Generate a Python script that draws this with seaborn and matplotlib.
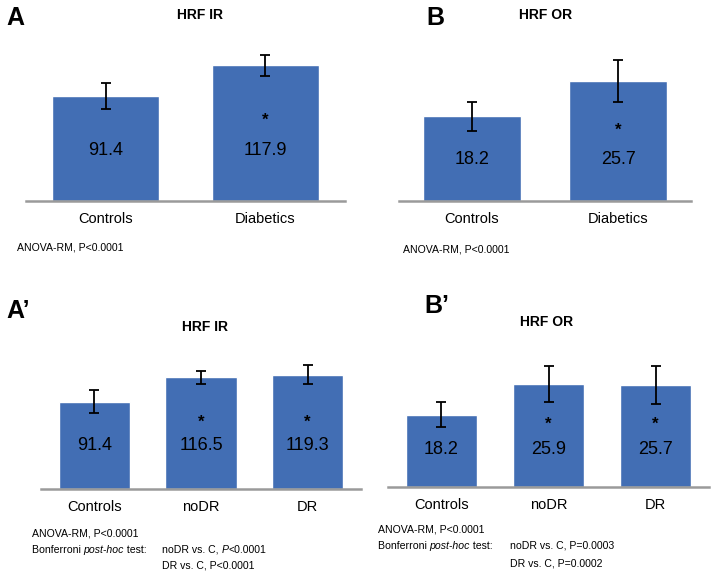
import matplotlib
matplotlib.use("Agg")
import matplotlib.pyplot as plt
import seaborn as sns
import pandas as pd

sns.set_style("white")
plt.rcParams['font.family'] = ['Liberation Sans', 'DejaVu Sans']
plt.rcParams['text.color'] = 'black'
plt.rcParams['xtick.color'] = 'black'
plt.rcParams['xtick.labelcolor'] = 'black'

# ---- data ----
cats_2 = ["Controls", "Diabetics"]
cats_3 = ["Controls", "noDR", "DR"]

ir_2 = [91.4, 117.9]
ir_2_err = [11.3, 9.0]
or_2 = [18.2, 25.7]
or_2_err = [3.1, 4.5]

ir_3 = [91.4, 116.5, 119.3]
ir_3_err = [12.0, 7.2, 10.0]
or_3 = [18.2, 25.9, 25.7]
or_3_err = [3.1, 4.6, 4.7]

sig_2 = ["", "*"]
sig_3 = ["", "*", "*"]

BAR = "#426EB4"
W, H = 714, 575
fig = plt.figure(figsize=(W / 100, H / 100), dpi=100)


def px_axes(x0, x1, base, top):
    return fig.add_axes([x0 / W, 1 - base / H, (x1 - x0) / W, (base - top) / H])


def panel(ax, cats, vals, errs, sig, ymax, lab_px, star_px):
    df = pd.DataFrame({"cat": cats, "val": vals})
    sns.barplot(data=df, x="cat", y="val", color=BAR, saturation=1,
                width=0.67, errorbar=None, ax=ax)
    ax.errorbar(range(len(vals)), vals, yerr=errs, fmt="none", ecolor="black",
                elinewidth=1.3, capsize=3.5, capthick=1.3, zorder=5)
    ax.set_ylim(0, ymax)
    ax.set_xlim(-0.5, len(vals) - 0.5)
    for s in ["top", "right", "left"]:
        ax.spines[s].set_visible(False)
    ax.spines["bottom"].set_color("#9a9a9a")
    ax.spines["bottom"].set_linewidth(1.8)
    ax.set_yticks([])
    ax.set_xlabel("")
    ax.set_ylabel("")
    ax.tick_params(axis="x", length=0, pad=8, labelsize=10.5, labelcolor="black")
    for i, v in enumerate(vals):
        ax.annotate(f"{v}", xy=(i, 0), xytext=(0, lab_px * 0.72),
                    textcoords="offset points", ha="center", va="center",
                    fontsize=13, color="black")
        if sig[i]:
            ax.annotate(sig[i], xy=(i, 0), xytext=(0, star_px * 0.72),
                        textcoords="offset points", ha="center", va="center",
                        fontsize=12, fontweight="bold", color="black")


def ftext(x, y, s, **kw):
    return fig.text(x / W, 1 - y / H, s, **kw)


renderer = fig.canvas.get_renderer()


def rich(x, y, pieces, size):
    """Draw text pieces [(str, style)] sequentially on a common baseline."""
    cur = x
    for s, style in pieces:
        t = ftext(cur, y, s, fontsize=size, fontstyle=style, va="baseline", ha="left")
        bb = t.get_window_extent(renderer=renderer)
        cur += bb.width


# Panel A
axA = px_axes(26, 345, 201, 40)
panel(axA, cats_2, ir_2, ir_2_err, sig_2, 140, 51, 81)
# Panel B
axB = px_axes(399, 691, 201, 38)
panel(axB, cats_2, or_2, or_2_err, sig_2, 35, 42, 71)
# Panel A'
axA2 = px_axes(41, 361, 489, 355)
panel(axA2, cats_3, ir_3, ir_3_err, sig_3, 140, 43, 67)
# Panel B'
axB2 = px_axes(388, 709, 487, 348)
panel(axB2, cats_3, or_3, or_3_err, sig_3, 35, 37, 63)

# Panel letters
ftext(6, 18, "A", fontsize=18, fontweight="bold", va="center", ha="left")
ftext(426, 18, "B", fontsize=18, fontweight="bold", va="center", ha="left")
ftext(6, 311, "A\u2019", fontsize=18, fontweight="bold", va="center", ha="left")
ftext(424, 306, "B\u2019", fontsize=18, fontweight="bold", va="center", ha="left")

# Titles
ftext(200, 15, "HRF IR", fontsize=10, fontweight="bold", ha="center", va="center")
ftext(546, 15, "HRF OR", fontsize=10, fontweight="bold", ha="center", va="center")
ftext(205, 327, "HRF IR", fontsize=10, fontweight="bold", ha="center", va="center")
ftext(547, 322, "HRF OR", fontsize=10, fontweight="bold", ha="center", va="center")

# Notes (y = baseline in px)
NS = 7.6
rich(17, 251, [("ANOVA-RM, P<0.0001", "normal")], NS)
rich(403, 252, [("ANOVA-RM, P<0.0001", "normal")], NS)

rich(32, 537, [("ANOVA-RM, P<0.0001", "normal")], NS)
rich(32, 553, [("Bonferroni ", "normal"), ("post-hoc", "italic"), (" test:", "normal")], NS)
rich(162, 553, [("noDR vs. C, ", "normal"), ("P", "italic"), ("<0.0001", "normal")], NS)
rich(162, 569, [("DR vs. C, P<0.0001", "normal")], NS)

rich(378, 533, [("ANOVA-RM, P<0.0001", "normal")], NS)
rich(378, 549, [("Bonferroni ", "normal"), ("post-hoc", "italic"), (" test:", "normal")], NS)
rich(510, 549, [("noDR vs. C, P=0.0003", "normal")], NS)
rich(510, 566, [("DR vs. C, P=0.0002", "normal")], NS)

fig.savefig("out.png", dpi=100)
